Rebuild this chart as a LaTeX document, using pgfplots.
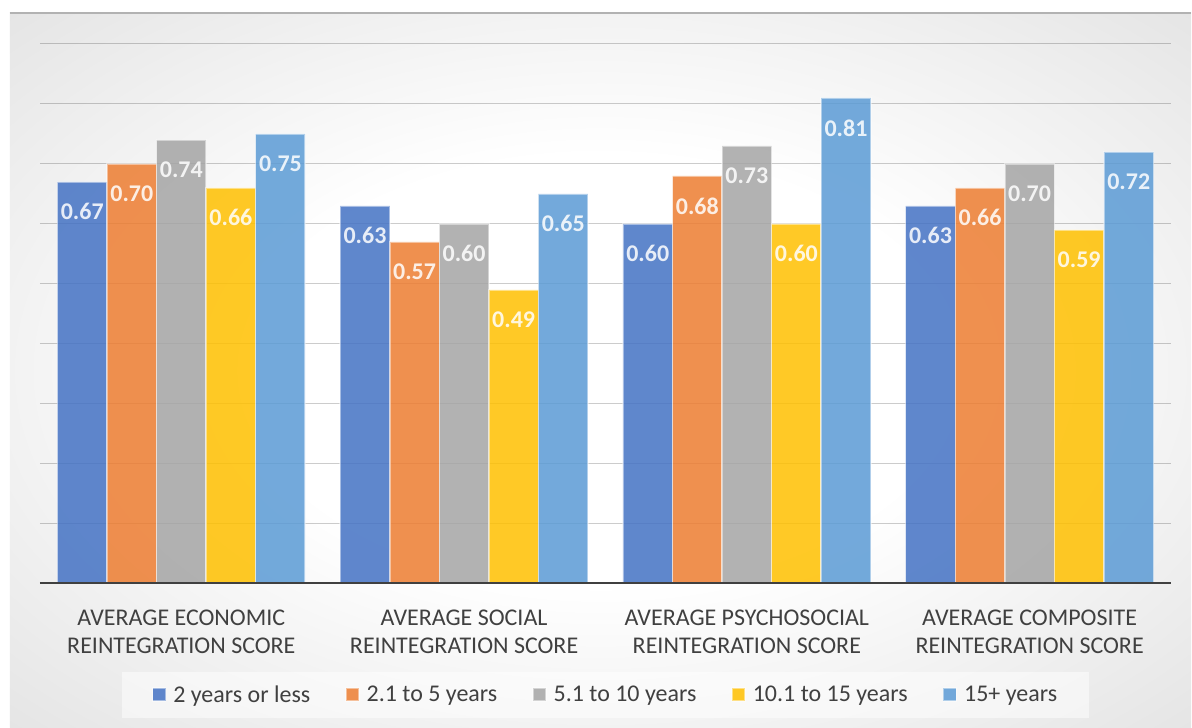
\documentclass[border=0pt]{standalone}
\usepackage{pgfplots}
\pgfplotsset{compat=1.18}
\usepackage{pgfplotstable}
\usepackage{fontspec}
\setmainfont{Carlito}

\definecolor{cBlue}{HTML}{4472C4}
\definecolor{cOrange}{HTML}{ED7D31}
\definecolor{cGray}{HTML}{A5A5A5}
\definecolor{cYellow}{HTML}{FFC000}
\definecolor{cLight}{HTML}{5B9BD5}
\definecolor{txt}{HTML}{404040}

\pgfdeclareradialshading{chartbg}{\pgfpoint{0bp}{0bp}}{color(0bp)=(white); color(15bp)=(white); color(71bp)=(black!28)}

% average reintegration scores by years of residence
\pgfplotstableread{
cat a b c d e
0 0.67 0.70 0.74 0.66 0.75
1 0.63 0.57 0.60 0.49 0.65
2 0.60 0.68 0.73 0.60 0.81
3 0.63 0.66 0.70 0.59 0.72
}\reint

\begin{document}
\begin{tikzpicture}[x=1pt,y=1pt]
\fill[white] (0,0) rectangle (1192,728);
\shade[shading=chartbg] (10,0) rectangle (1192,715);
\draw[black!30, line width=2pt] (10,715) -- (1192,715);
\begin{axis}[
  at={(40pt,144pt)}, anchor=south west,
  scale only axis, width=1132pt, height=540pt,
  ybar=0pt, bar width=49.6pt,
  xmin=-0.5, xmax=3.5, ymin=0, ymax=0.9,
  ytick={0.1,0.2,0.3,0.4,0.5,0.6,0.7,0.8,0.9},
  yticklabels={},
  ymajorgrids,
  grid style={black, opacity=0.2, line width=1pt},
  axis line style={draw=none},
  tick style={draw=none},
  xtick={0,1,2,3},
  xticklabels={{AVERAGE ECONOMIC\\REINTEGRATION SCORE},
               {AVERAGE SOCIAL\\REINTEGRATION SCORE},
               {AVERAGE PSYCHOSOCIAL\\REINTEGRATION SCORE},
               {AVERAGE COMPOSITE\\REINTEGRATION SCORE}},
  xticklabel style={align=center, text=txt, font=\fontsize{24}{28}\selectfont, yshift=-19pt},
  /pgf/number format/assume math mode=true,
  nodes near coords={\pgfmathprintnumber[fixed,fixed zerofill,precision=2]{\pgfplotspointmeta}},
  nodes near coords align={below},
  every node near coord/.append style={text=white, font=\fontsize{24}{26}\bfseries\selectfont,
      inner sep=0pt, anchor=north, yshift=-21pt},
  legend columns=5,
  legend style={at={(0.5,-0.163)}, anchor=north, draw=none, fill=white, fill opacity=0.5,
      text opacity=1, text=txt, font=\fontsize{24}{28}\selectfont,
      inner xsep=30pt, inner ysep=12pt,
      /tikz/every odd column/.append style={column sep=5pt},
      /tikz/every even column/.append style={column sep=33pt}},
  legend image code/.code={\draw[#1] (0pt,-6.5pt) rectangle (13pt,6.5pt);},
  every axis plot/.append style={fill opacity=0.85, draw=white, draw opacity=0.45, line width=1.5pt},
]
\addplot[fill=cBlue] table[x=cat, y=a] {\reint};
\addplot[fill=cOrange] table[x=cat, y=b] {\reint};
\addplot[fill=cGray] table[x=cat, y=c] {\reint};
\addplot[fill=cYellow] table[x=cat, y=d] {\reint};
\addplot[fill=cLight] table[x=cat, y=e] {\reint};
\legend{2 years or less, 2.1 to 5 years, 5.1 to 10 years, 10.1 to 15 years, 15+ years}
\draw[txt, line width=2.5pt] (axis cs:-0.5,0) -- (axis cs:3.5,0);
\end{axis}
\end{tikzpicture}
\end{document}
